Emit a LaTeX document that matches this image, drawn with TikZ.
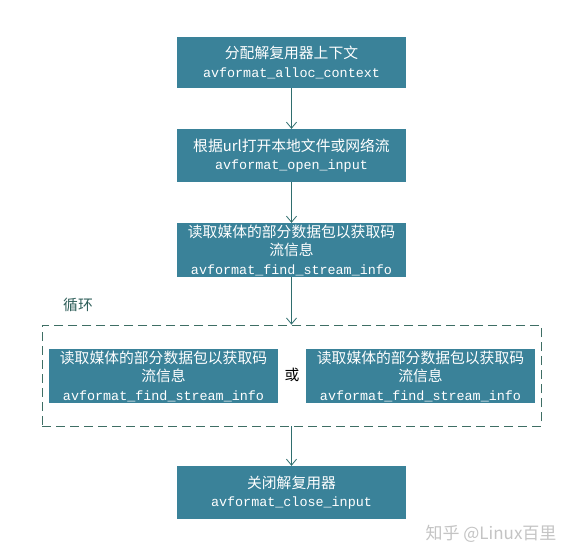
\documentclass[tikz,border=0pt]{standalone}
\usepackage{fontspec}
\setmainfont{Liberation Mono}
\newfontfamily\cjk{Noto Sans CJK SC}
\newfontfamily\wmfont{Noto Sans CJK SC}
\usetikzlibrary{arrows.meta}
\definecolor{boxfill}{HTML}{3A8299}
\definecolor{arrowcol}{HTML}{2F6E6E}
\definecolor{dashcol}{HTML}{3E6E64}
\definecolor{labelcol}{HTML}{2F5F5A}
\definecolor{wmcol}{HTML}{C4C4C4}
\tikzset{
  stepbox/.style={fill=boxfill, draw=none, text=white, minimum width=229pt, align=center, inner sep=0pt,
    font=\fontsize{13.4}{18.5}\selectfont},
  flowarrow/.style={draw=arrowcol, line width=0.8pt, -{Straight Barb[length=6pt,width=10pt,line width=0.8pt]}},
  loopbox/.style={draw=dashcol, dash pattern=on 9pt off 5pt, line width=0.8pt, minimum width=499pt, minimum height=101pt, inner sep=0pt},
}
\newcommand{\zh}[1]{{\cjk\fontsize{14.8}{18.5}\selectfont #1}}
\begin{document}
\begin{tikzpicture}[x=1pt,y=-1pt]
\useasboundingbox (0,0) rectangle (573,558);
\fill[white] (0,0) rectangle (573,558);
\node[stepbox, minimum height=51pt] (b1) at (291.5,62.5) {\zh{分配解复用器上下文}\\avformat\_alloc\_context};
\node[stepbox, minimum height=53pt] (b2) at (291.5,155.5) {\zh{根据url打开本地文件或网络流}\\avformat\_open\_input};
\node[stepbox, minimum height=54pt] (b3) at (291.5,250) {\zh{读取媒体的部分数据包以获取码}\\\zh{流信息}\\avformat\_find\_stream\_info};
\node[loopbox] (loop) at (291.5,375.5) {};
\node[text=labelcol, anchor=center] (looplabel) at (78,305) {\zh{循环}};
\node[stepbox, minimum height=54pt] (l1) at (163.5,376) {\zh{读取媒体的部分数据包以获取码}\\\zh{流信息}\\avformat\_find\_stream\_info};
\node[stepbox, minimum height=54pt] (l2) at (420.5,376) {\zh{读取媒体的部分数据包以获取码}\\\zh{流信息}\\avformat\_find\_stream\_info};
\node (or) at (292,375) {\zh{或}};
\node[stepbox, minimum height=53pt] (b5) at (291.5,492.5) {\zh{关闭解复用器}\\avformat\_close\_input};
\node[text=wmcol, font=\wmfont\fontsize{17}{19}\selectfont] (wm) at (491,534) {知乎 @Linux百里};
\draw[flowarrow] (b1.south) -- (b2.north);
\draw[flowarrow] (b2.south) -- (b3.north);
\draw[flowarrow] (b3.south) -- (loop.north);
\draw[flowarrow] (loop.south) -- (b5.north);
\end{tikzpicture}
\end{document}
